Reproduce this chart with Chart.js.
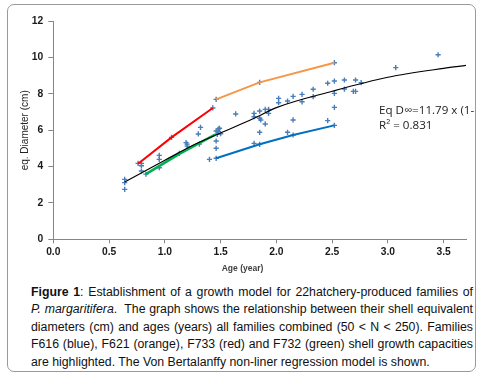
<!DOCTYPE html>
<html>
<head>
<meta charset="utf-8">
<script src="https://cdn.jsdelivr.net/npm/chart.js@4/dist/chart.umd.min.js"></script>
<style>
  html, body { margin: 0; padding: 0; background: #fff; }
  body { width: 485px; height: 373px; position: relative; overflow: hidden; font-family: "Liberation Sans", Arial, sans-serif; }
  #frame { position: absolute; left: 7px; top: 4px; width: 467px; height: 366px; border: 1px solid #9a9a9a; border-radius: 7px; }
  #wrap { position: absolute; left: 0; top: 0; width: 485px; height: 278px; }
  #caption { position: absolute; left: 31px; top: 284px; width: 442px; font-size: 12.3px; line-height: 17.4px; color: #111; }
  #caption div { white-space: nowrap; }
  #caption .j { text-align: justify; text-align-last: justify; }
</style>
</head>
<body>
<div id="frame"></div>
<div id="wrap"><canvas id="chart" width="485" height="278"></canvas></div>
<div id="caption">
  <div class="j"><b>Figure 1</b>: Establishment of a growth model for 22hatchery-produced families of</div>
  <div class="j"><i>P. margaritifera</i>.&nbsp; The graph shows the relationship between their shell equivalent</div>
  <div class="j">diameters (cm) and ages (years) all families combined (50 &lt; N &lt; 250). Families</div>
  <div class="j">F616 (blue), F621 (orange), F733 (red) and F732 (green) shell growth capacities</div>
  <div>are highlighted. The Von Bertalanffy non-liner regression model is shown.</div>
</div>
<script>
// all families, individual measurements
const ageAll  = [0.64, 0.64, 0.64, 0.76, 0.79, 0.79, 0.79, 0.83, 0.95, 0.95, 0.95, 1.06, 1.13, 1.19, 1.20, 1.20,
                 1.30, 1.32, 1.31, 1.40, 1.43, 1.46, 1.46, 1.46, 1.46, 1.48, 1.49, 1.46, 1.48, 1.47, 1.50, 1.635,
                 1.80, 1.80, 1.85, 1.85, 1.86, 1.90, 1.93, 1.93, 1.90, 1.85, 1.80, 1.85, 1.85, 2.02, 2.02, 2.10,
                 2.15, 2.15, 2.10, 2.15, 2.23, 2.23, 2.33, 2.33, 2.46, 2.46, 2.52, 2.52, 2.52, 2.52, 2.52, 2.61,
                 2.61, 2.69, 2.71, 2.71, 2.76, 3.07, 3.45];
const diamAll = [3.30, 3.12, 2.75, 4.18, 4.18, 4.05, 3.76, 3.59, 4.62, 4.40, 3.94, 5.61, 4.73, 5.32, 5.24, 5.13,
                 5.80, 6.16, 5.24, 4.40, 7.23, 7.70, 5.01, 4.46, 5.41, 6.07, 6.11, 5.96, 5.92, 5.78, 5.81, 6.90,
                 6.93, 6.75, 7.06, 6.66, 6.57, 7.15, 7.15, 6.93, 6.35, 5.89, 5.28, 5.23, 8.64, 7.76, 7.52, 7.61,
                 7.87, 6.57, 5.89, 5.74, 7.98, 7.57, 8.26, 7.85, 8.59, 6.53, 8.71, 8.03, 7.26, 6.27, 9.72, 8.77,
                 8.27, 8.14, 8.14, 8.77, 8.62, 9.45, 10.16];

// highlighted families
const ageF616  = [1.46, 1.85, 2.15, 2.52];
const diamF616 = [4.46, 5.23, 5.74, 6.27];
const ageF621  = [1.46, 1.85, 2.52];
const diamF621 = [7.70, 8.64, 9.72];
const ageF733  = [0.76, 1.06, 1.43];
const diamF733 = [4.16, 5.61, 7.23];
const ageF732  = [0.83, 1.13, 1.45];
const diamF732 = [3.59, 4.70, 5.76];

// Von Bertalanffy curve
const ageVB  = [0.64, 1.0, 1.27, 1.5, 1.8, 2.0, 2.5, 3.0, 3.5, 3.7];
const diamVB = [3.15, 4.35, 5.23, 5.85, 6.66, 7.25, 8.15, 8.92, 9.41, 9.57];

const xTicks = [0, 0.5, 1, 1.5, 2, 2.5, 3, 3.5];
const yTicks = [0, 2, 4, 6, 8, 10, 12];

const eqLines = ['Eq D\u221E=11.79 x (1-', 'R\u00B2 = 0.831'];
const xTitle = 'Age (year)';
const yTitle = 'eq. Diameter (cm)';

const pts = (xs, ys) => xs.map((x, i) => ({ x, y: ys[i] }));
const AXIS = '#868686';
const TICKFONT = { family: 'Liberation Sans', size: 10.3, weight: 'bold' };

function lineSet(xs, ys, color, width, smooth = false) {
  return {
    data: pts(xs, ys), showLine: true, borderColor: color, borderWidth: width, pointRadius: 0, fill: false,
    tension: smooth ? 0.4 : 0, cubicInterpolationMode: smooth ? 'monotone' : 'default'
  };
}

const notes = {
  id: 'notes',
  afterDraw(chart) {
    const { ctx, scales: { x, y } } = chart;
    ctx.save();
    ctx.fillStyle = '#222';
    ctx.font = '11.6px "Open Sans"';
    ctx.textBaseline = 'middle';
    ctx.textAlign = 'left';
    const left = x.getPixelForValue(2.92);
    const top = y.getPixelForValue(7.07);
    eqLines.forEach((t, i) => ctx.fillText(t, left, top + i * 15));
    ctx.font = 'bold 8.5px "Liberation Sans"';
    ctx.fillStyle = '#404040';
    ctx.textAlign = 'center';
    ctx.fillText(xTitle, chart.width / 2, 269);
    ctx.restore();
  }
};

new Chart(document.getElementById('chart'), {
  type: 'scatter',
  data: {
    datasets: [
      lineSet(ageVB, diamVB, '#000', 1.2, true),
      lineSet(ageF733, diamF733, '#ff0000', 2),
      lineSet(ageF621, diamF621, '#f79646', 2),
      lineSet(ageF732, diamF732, '#00b050', 2.5),
      lineSet(ageF616, diamF616, '#0070c0', 2),
      { data: pts(ageAll, diamAll), pointStyle: 'cross', pointRadius: 2.6, borderColor: '#4a7ebb', borderWidth: 1.4, showLine: false },
    ]
  },
  options: {
    responsive: false,
    animation: false,
    layout: { padding: { left: 0, top: 21.3, right: 19, bottom: 0 } },
    scales: {
      x: {
        type: 'linear', min: 0, max: 3.7,
        afterFit(s) { s.height = 38.7; },
        afterBuildTicks(s) { s.ticks = xTicks.map(v => ({ value: v })); },
        ticks: { font: TICKFONT, color: '#1a1a1a', padding: 3, maxRotation: 0, callback: v => v.toFixed(1) },
        grid: { display: true, drawOnChartArea: false, drawTicks: true, tickLength: 4, color: AXIS },
        border: { display: true, color: AXIS }
      },
      y: {
        min: 0, max: 12,
        afterFit(s) { s.width = 53.3; },
        afterBuildTicks(s) { s.ticks = yTicks.map(v => ({ value: v })); },
        ticks: { font: TICKFONT, color: '#1a1a1a', padding: 5 },
        grid: { display: true, drawOnChartArea: false, drawTicks: true, tickLength: 5, color: AXIS },
        border: { display: true, color: AXIS },
        title: { display: true, text: yTitle, color: '#222', font: { family: 'Liberation Sans', size: 10 }, padding: { top: 19, bottom: 0 } }
      }
    },
    plugins: { legend: { display: false }, tooltip: { enabled: false } }
  },
  plugins: [notes]
});
</script>
</body>
</html>
